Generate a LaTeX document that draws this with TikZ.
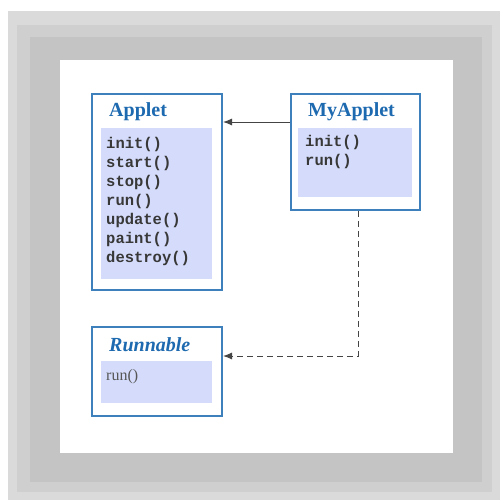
\documentclass[tikz,border=0pt]{standalone}
\usepackage{fontspec}
\setmainfont{Liberation Serif}[BoldFont={Liberation Serif Bold}, ItalicFont={Liberation Serif Italic}, BoldItalicFont={Liberation Serif Bold Italic}]
\setmonofont{Liberation Mono}[BoldFont={Liberation Mono Bold}]
\usetikzlibrary{arrows.meta}
\definecolor{bglight}{HTML}{DADADA}
\definecolor{bgmid}{HTML}{CFCFCF}
\definecolor{bgdark}{HTML}{C4C4C4}
\definecolor{boxline}{HTML}{3D80BC}
\definecolor{innerfill}{HTML}{D5DCFB}
\definecolor{titleblue}{HTML}{1E6AB0}
\definecolor{methodgray}{HTML}{383838}
\definecolor{linkgray}{HTML}{444444}
\tikzset{
  umlbox/.style={draw=boxline, line width=2pt, fill=white, minimum width=#1, inner sep=0pt},
  innerbox/.style={fill=innerfill, draw=none, inner sep=0pt},
  classtitle/.style={anchor=west, inner sep=0pt, text=titleblue, font=\fontsize{20}{22}\selectfont\bfseries},
  methods/.style={anchor=north west, inner sep=0pt, align=left, text=methodgray, font=\fontsize{15.5}{19}\selectfont\ttfamily\bfseries},
  link/.style={draw=linkgray, line width=1pt, -{Latex[length=9pt,width=7pt]}}
}
\begin{document}
\begin{tikzpicture}[x=1pt,y=-1pt]
\useasboundingbox (0,0) rectangle (501,501);
% frame
\fill[white] (0,0) rectangle (501,501);
\fill[bglight] (8,11) rectangle (500,500);
\fill[bgmid] (17,25) rectangle (492,492);
\fill[bgdark] (30,37) rectangle (482,482);
\fill[white] (60,60) rectangle (453,453);
% boxes
\node[umlbox=130pt, minimum height=196pt] (applet) at (157,192) {};
\node[umlbox=129pt, minimum height=116pt] (myapplet) at (355.5,152) {};
\node[umlbox=130pt, minimum height=89pt] (runnable) at (157,371.5) {};
% inner fills
\node[innerbox, minimum width=111pt, minimum height=151pt] (appletfill) at (156.5,203.5) {};
\node[innerbox, minimum width=114pt, minimum height=69pt] (myappletfill) at (355,162.5) {};
\node[innerbox, minimum width=111pt, minimum height=42pt] (runnablefill) at (156.5,382) {};
% titles
\node[classtitle] (appletname) at (109,112) {Applet};
\node[classtitle] (myappletname) at (308,112) {MyApplet};
\node[classtitle, font=\fontsize{20}{22}\selectfont\bfseries\itshape] (runnablename) at (109,345) {Runnable};
% methods
\node[methods] (appletmethods) at (106,137) {init()\\start()\\stop()\\run()\\update()\\paint()\\destroy()};
\node[methods] (myappletmethods) at (305,135) {init()\\run()};
\node[anchor=west, inner sep=0pt, text=methodgray!85, font=\fontsize{16}{18}\selectfont] (runnablemethods) at (106,377) {run()};
% connectors
\coordinate (r1) at (0,122);
\coordinate (d) at (358,356);
\draw[link] (myapplet.west |- r1) -- (applet.east |- r1);
\draw[link, dash pattern=on 6pt off 4pt] (myapplet.south -| d) -- (d) -- (runnable.east |- d);
\end{tikzpicture}
\end{document}
